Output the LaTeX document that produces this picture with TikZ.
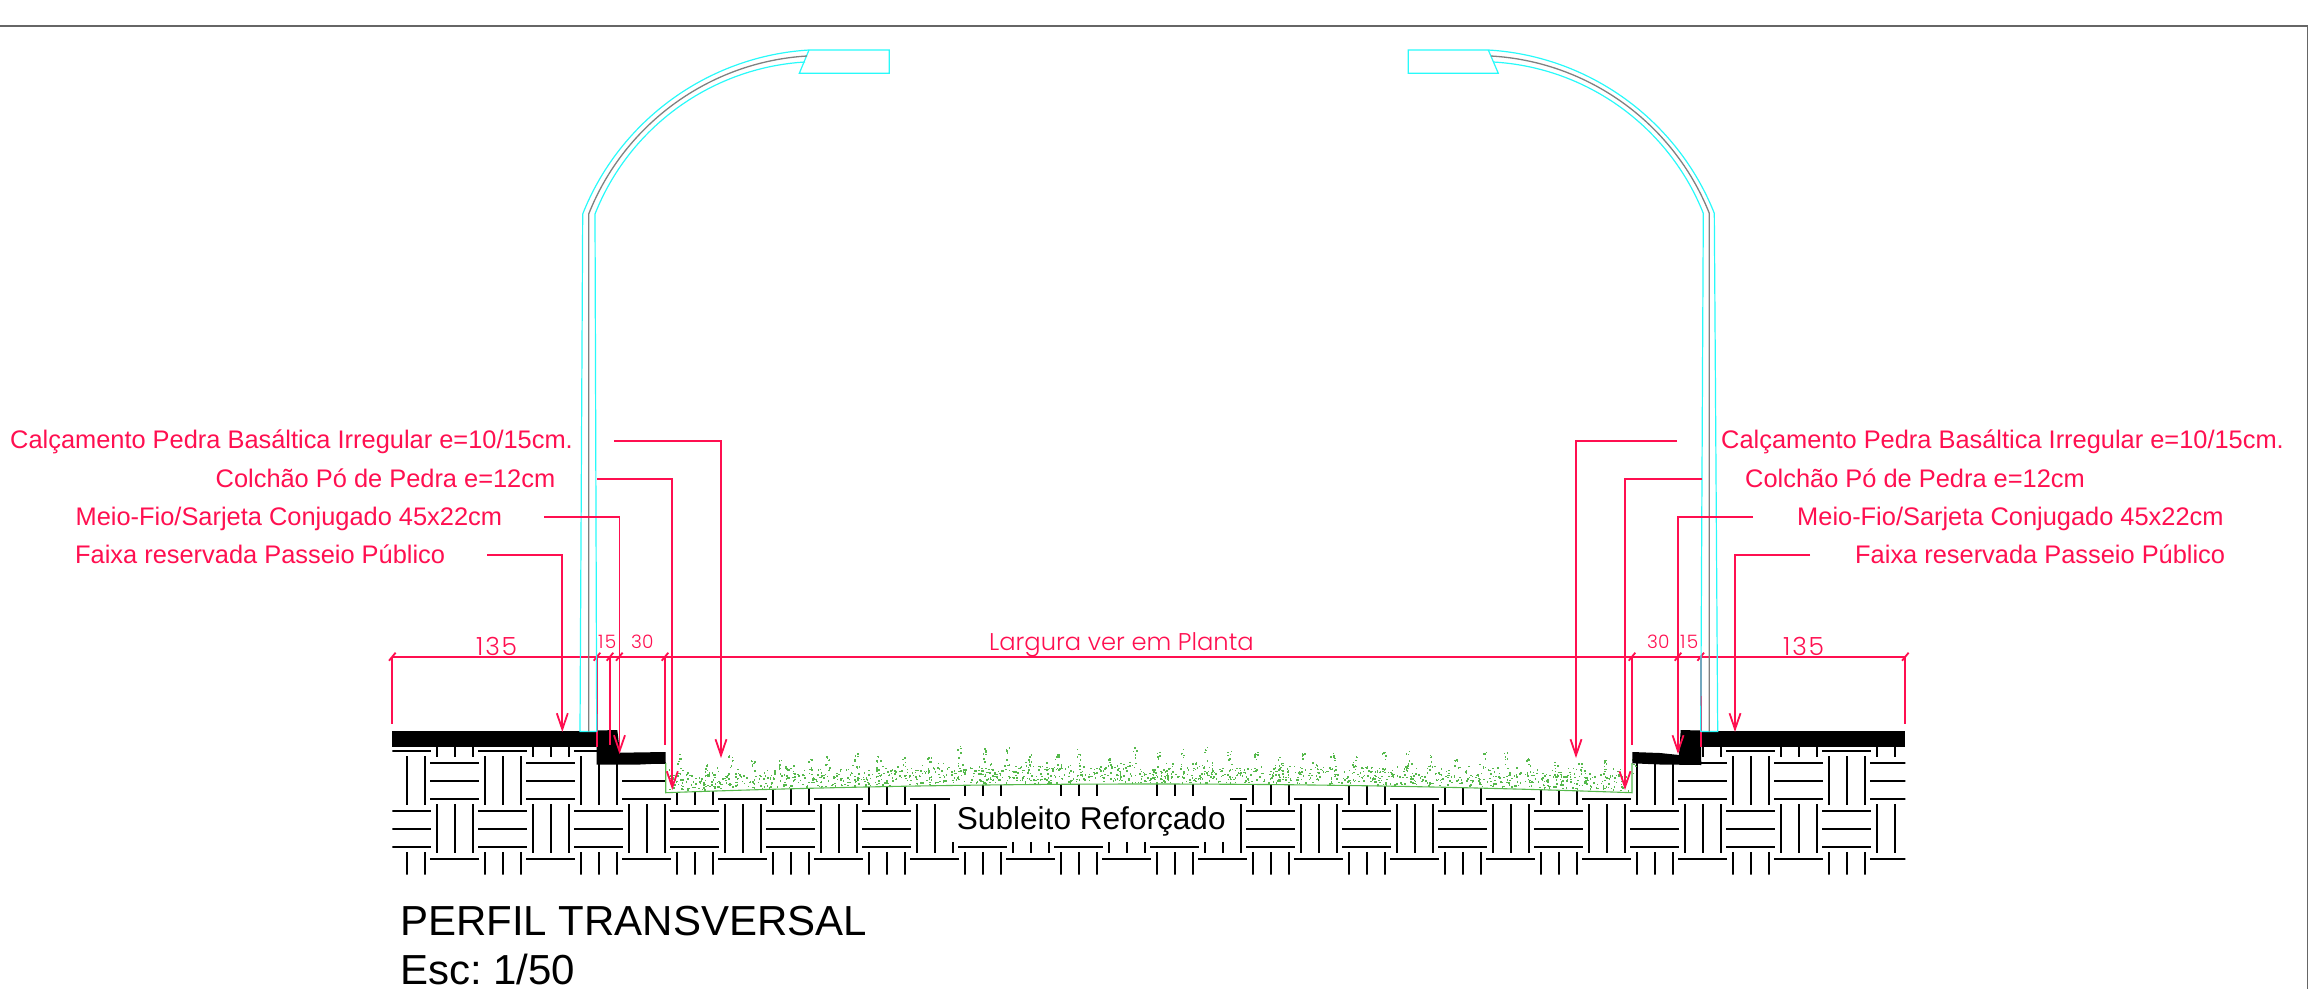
\documentclass[tikz,border=0pt]{standalone}
\usepackage{fontspec}
\usepackage{xcolor}
\setmainfont{Liberation Sans}
\newfontfamily\dimfont{Poppins Light}
\newfontfamily\dimwide{Poppins Light}[LetterSpace=7]
\usetikzlibrary{
    arrows.meta,
    calc
}
\definecolor{redcad}{RGB}{255,15,80}
\definecolor{cyancad}{RGB}{40,250,250}
\definecolor{greencad}{RGB}{85,185,75}
\tikzset{redline/.style={draw=redcad, line width=1.8pt}}
\tikzset{leader/.style={redline, -{Straight Barb[length=16pt, width=11pt]}}}
\tikzset{cyanline/.style={draw=cyancad, line width=1.2pt}}
\tikzset{midline/.style={draw=gray, line width=1.3pt}}
\tikzset{hatch/.style={draw=black, line width=1.7pt}}
\tikzset{redtext/.style={inner sep=0pt, anchor=base west, text=redcad, font=\fontsize{25.4}{30}\selectfont}}
\tikzset{dimtext/.style={inner sep=0pt, anchor=base west, text=redcad}}
\tikzset{blacktext/.style={inner sep=0pt, anchor=base west, text=black}}

\begin{document}
\begin{tikzpicture}[x=1pt, y=-1pt]
    \useasboundingbox (0, 0) rectangle (2321, 989);
    \draw[draw=gray!80!black, line width=1.4pt] (0, 26) -- (2307.7, 26) -- (2307.7, 989);

    % ground pattern
    \begin{scope}
        \clip (392.3, 731) -- (597, 731) -- (597, 760) -- (665.7, 760) -- (665.7, 792.7)
            .. controls (987.7, 781.1) and (1310, 781.1) .. (1632, 792.7)
            -- (1632, 760) -- (1701, 760) -- (1701, 731) -- (1905.3, 731) -- (1905.3, 874.5) -- (392.3, 874.5) -- cycle;
        \foreach \i in {-2,...,31} {
            \foreach \j in {-1,...,2} {
                \pgfmathsetmacro{\cx}{454.67+48*\i}
                \pgfmathsetmacro{\cy}{780.67+48*\j}
                \pgfmathtruncatemacro{\cellodd}{mod(\i+\j+10,2)}
                \ifnum\cellodd=0
                    \foreach \k in {-18,0,18} {\draw[hatch] (\cx-24.67, \cy+\k) -- (\cx+24.67, \cy+\k);}
                \else
                    \foreach \k in {-18,0,18} {\draw[hatch] (\cx+\k, \cy-24.67) -- (\cx+\k, \cy+24.67);}
                \fi
            }
        }
    \end{scope}
    \fill[white] (950, 796) rectangle (1230, 841.7);

    % subgrade
    \draw[draw=greencad, line width=1.1pt] (665.7, 763) -- (665.7, 792.7)
        .. controls (987.7, 781.1) and (1310, 781.1) .. (1632, 792.7) -- (1632, 763);
    \pgfmathsetseed{11}
    \foreach \n in {1,...,1500} {
        \pgfmathsetmacro{\px}{668+961*rnd}
        \pgfmathsetmacro{\ph}{23*rnd*(0.6+0.4*rnd)}
        \pgfmathsetmacro{\py}{784+8.7*((\px-1149)/483)^2-1-\ph}
        \fill[greencad] (\px-0.75, \py-0.75) rectangle (\px+0.75, \py+0.75);
    }
    \foreach \c in {0,...,38} {
        \pgfmathsetmacro{\colx}{676+25*\c+8*rnd}
        \pgfmathsetmacro{\coltop}{16+13*rnd}
        \foreach \m in {1,...,7} {
            \pgfmathsetmacro{\px}{\colx+4*rnd}
            \pgfmathsetmacro{\ph}{12+\coltop*sqrt(rnd)}
            \pgfmathsetmacro{\py}{784+8.7*((\px-1149)/483)^2-\ph}
            \fill[greencad] (\px-0.75, \py-0.75) rectangle (\px+0.75, \py+0.75);
        }
    }

    % slab and kerb
    \fill[black] (392.3, 731) rectangle (597, 747);
    \fill[black] (1700.7, 731) rectangle (1905.3, 747);
    \fill[black] (596.7, 730.5) -- (617.3, 730) -- (620, 752.7) -- (665.7, 752) -- (665.7, 763.3) -- (640, 764.5) -- (596.7, 764.7) -- cycle;
    \fill[black] (1700.7, 730.5) -- (1680.7, 730) -- (1679, 755) -- (1660, 753) -- (1632.3, 752) -- (1632.3, 763.3) -- (1660, 764.5) -- (1701.3, 765) -- cycle;

    % dimension line
    \draw[redline] (392.3, 656.7) -- (1905.3, 656.7);
    \foreach \x/\yend in {392.3/724, 597/747, 610/745, 665/745, 1632/745, 1700.7/747, 1905.3/724} {
        \draw[redline] (\x, 656.7) -- (\x, \yend);
    }
    \foreach \x in {392.3, 597, 610, 619.3, 665, 1632, 1678, 1700.7, 1905.3} {
        \draw[redline] (\x-3.3, 660.7) -- (\x+3.3, 652.7);
    }

    % left arch
    \draw[cyanline] (596.7, 731.5) -- (580, 731.5) -- (582.7, 214) to[bend left=32.5, looseness=0.924] (809, 50) -- (889.3, 50) -- (889.3, 73.3) -- (799.3, 73.3) -- (809, 50);
    \draw[cyanline] (596.7, 731.5) -- (595, 214) to[bend left=32.5, looseness=0.924] (805, 62);
    \draw[midline] (588.7, 731.5) -- (588.7, 214) to[bend left=32.5, looseness=0.924] (807, 56);

    % right arch
    \draw[cyanline] (1700.7, 731.5) -- (1717.7, 731.5) -- (1714.3, 213.3) to[bend right=32.5, looseness=0.924] (1488.3, 50) -- (1408.3, 50) -- (1408.3, 73.3) -- (1498.3, 73.3) -- (1488.3, 50);
    \draw[cyanline] (1700.7, 731.5) -- (1703.3, 213.3) to[bend right=32.5, looseness=0.924] (1493.3, 62);
    \draw[midline] (1709.3, 731.5) -- (1709.3, 213.3) to[bend right=32.5, looseness=0.924] (1491, 56);

    % labels
    \node[redtext] (calcl) at (10, 448) {Calçamento Pedra Basáltica Irregular e=10/15cm.};
    \node[redtext] (colcl) at (215.5, 487) {Colchão Pó de Pedra e=12cm};
    \node[redtext] (meiol) at (75.5, 525) {Meio-Fio/Sarjeta Conjugado 45x22cm};
    \node[redtext] (faixl) at (75, 563) {Faixa reservada Passeio Público};
    \node[redtext] (calcr) at (1721, 448) {Calçamento Pedra Basáltica Irregular e=10/15cm.};
    \node[redtext] (colcr) at (1745, 487) {Colchão Pó de Pedra e=12cm};
    \node[redtext] (meior) at (1797, 525) {Meio-Fio/Sarjeta Conjugado 45x22cm};
    \node[redtext] (faixr) at (1855, 563) {Faixa reservada Passeio Público};

    \coordinate (calclstart) at (614, 441);
    \coordinate (colclstart) at (597, 479);
    \coordinate (meiolstart) at (544, 517);
    \coordinate (faixlstart) at (487, 555);
    \coordinate (calclend) at (721, 758);
    \coordinate (colclend) at (672.3, 790);
    \coordinate (meiolend) at (619.5, 754);
    \coordinate (faixlend) at (562.3, 732);
    \coordinate (calcrstart) at (1677, 441);
    \coordinate (colcrstart) at (1702, 479);
    \coordinate (meiorstart) at (1753, 517);
    \coordinate (faixrstart) at (1810, 555);
    \coordinate (calcrend) at (1576, 758);
    \coordinate (colcrend) at (1625, 790);
    \coordinate (meiorend) at (1678, 754);
    \coordinate (faixrend) at (1735, 732);

    \draw[leader] (calclstart) -| (calclend);
    \draw[leader] (colclstart) -| (colclend);
    \draw[leader] (meiolstart) -| (meiolend);
    \draw[leader] (faixlstart) -| (faixlend);
    \draw[leader] (calcrstart) -| (calcrend);
    \draw[leader] (colcrstart) -| (colcrend);
    \draw[leader] (meiorstart) -| (meiorend);
    \draw[leader] (faixrstart) -| (faixrend);

    % dimension text
    \node[dimtext, font=\dimwide\fontsize{25}{30}\selectfont] (dimal) at (476, 655) {135};
    \node[dimtext, font=\dimwide\fontsize{18.5}{22}\selectfont] (dimbl) at (598, 648) {15};
    \node[dimtext, font=\dimfont\fontsize{18.5}{22}\selectfont] (dimcl) at (631, 648) {30};
    \node[dimtext, font=\dimfont\fontsize{24.2}{28}\selectfont] (dimw) at (989, 650.7) {Largura ver em Planta};
    \node[dimtext, font=\dimfont\fontsize{18.5}{22}\selectfont] (dimcr) at (1647, 648) {30};
    \node[dimtext, font=\dimwide\fontsize{18.5}{22}\selectfont] (dimbr) at (1680, 648) {15};
    \node[dimtext, font=\dimwide\fontsize{25}{30}\selectfont] (dimar) at (1783, 655) {135};

    \node[blacktext, font=\fontsize{31.6}{36}\selectfont] (sub) at (956.7, 829.3) {Subleito Reforçado};
    \node[blacktext, font=\fontsize{42}{50}\selectfont] (title) at (400, 935) {PERFIL TRANSVERSAL};
    \node[blacktext, font=\fontsize{42}{50}\selectfont] (scale) at (400, 984) {Esc:\kern-4pt{} 1/50};
\end{tikzpicture}
\end{document}
